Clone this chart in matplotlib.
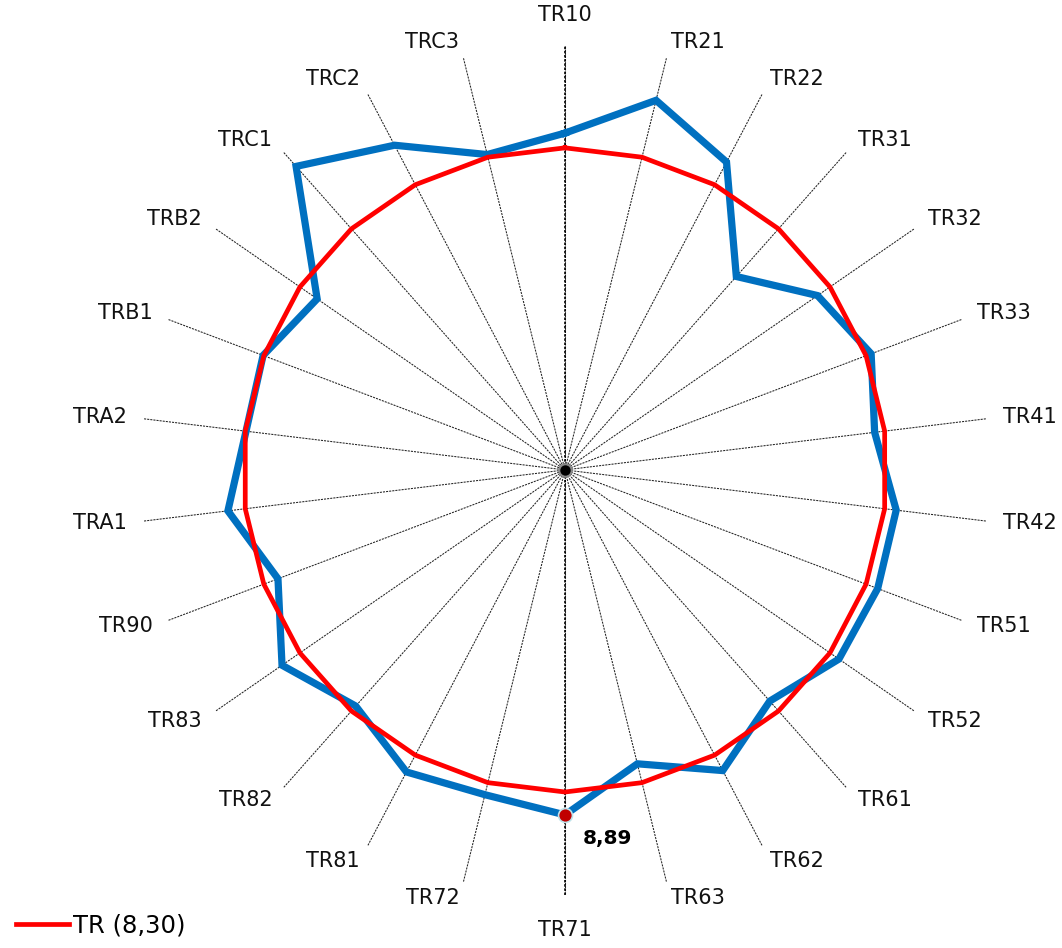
import numpy as np
import matplotlib
matplotlib.use("Agg")
import matplotlib.pyplot as plt

# categories, clockwise from the top
categories = ["TR10", "TR21", "TR22", "TR31", "TR32", "TR33", "TR41", "TR42",
              "TR51", "TR52", "TR61", "TR62", "TR63", "TR71", "TR72", "TR81",
              "TR82", "TR83", "TR90", "TRA1", "TRA2", "TRB1", "TRB2", "TRC1",
              "TRC2", "TRC3"]

# measured series (blue)
values = [8.68, 9.81, 8.96, 6.66, 7.91, 8.44, 8.04, 8.60,
          8.62, 8.58, 7.96, 8.75, 7.80, 8.89, 8.62, 8.79,
          8.13, 8.86, 7.91, 8.75, 8.28, 8.32, 7.76, 10.45,
          9.45, 8.37]

# reference series TR (8,30)
reference = [8.30, 8.30, 8.30, 8.30, 8.30, 8.30, 8.30, 8.30,
             8.30, 8.30, 8.30, 8.30, 8.30, 8.30, 8.30, 8.30,
             8.30, 8.30, 8.30, 8.30, 8.30, 8.30, 8.30, 8.30,
             8.30, 8.30]
reference_label = "TR (8,30)"

highlight_idx = 13   # TR71, the labelled point
value_max = 10.95

n = len(categories)
theta = np.arange(n) * 2 * np.pi / n


def to_xy(r):
    r = np.asarray(r, dtype=float)
    return r * np.sin(theta), r * np.cos(theta)


fig = plt.figure(figsize=(10.62, 9.48), dpi=100)
ax = fig.add_axes([0, 0, 1, 1])
ax.set_xlim(-14.56, 12.81)
ax.set_ylim(-12.32, 12.11)
ax.axis("off")

# spokes
for t in theta:
    ax.plot([0, value_max * np.sin(t)], [0, value_max * np.cos(t)],
            color="#222222", lw=0.75, ls=(0, (2, 1)), zorder=1)
# vertical value axis
ax.plot([0, 0], [-value_max, value_max], color="black", lw=1.2,
        ls=(0, (1.5, 1)), zorder=1)
ax.plot([0], [0], "o", color="black", mec="#888888", mew=1.5, ms=9, zorder=2)

# series (closed polygons)
bx, by = to_xy(values)
ax.plot(np.append(bx, bx[0]), np.append(by, by[0]), color="#0070C0",
        lw=5.2, solid_joinstyle="miter", zorder=3, label="_nolegend_")
rx, ry = to_xy(reference)
ax.plot(np.append(rx, rx[0]), np.append(ry, ry[0]), color="#FF0000",
        lw=3.4, solid_joinstyle="miter", zorder=4, label=reference_label)

# highlighted point and its label
ax.plot(bx[highlight_idx], by[highlight_idx], "o", color="#C00000",
        mec="#BFE3EA", mew=1.2, ms=10, zorder=5)
ax.text(bx[highlight_idx] + 0.46, by[highlight_idx] - 0.62,
        f"{values[highlight_idx]:.2f}".replace(".", ","),
        fontsize=14.5, fontweight="bold", ha="left", va="center", zorder=6)

# category labels, anchored just outside the spoke ends
for t, lab in zip(theta, categories):
    s, c = np.sin(t), np.cos(t)
    if abs(s) < 1e-6:
        r = 11.72 if c > 0 else 11.85
        ha = "center"
    else:
        r = 11.37
        ha = "left" if s > 0 else "right"
    ax.text(r * s, r * c, lab, fontsize=15, ha=ha, va="center",
            color="#111111")

ax.legend(loc="lower left", bbox_to_anchor=(-0.006, -0.012), frameon=False,
          fontsize=17.5, handlelength=2.2, handletextpad=0.15)

fig.savefig("out.png", dpi=100)
